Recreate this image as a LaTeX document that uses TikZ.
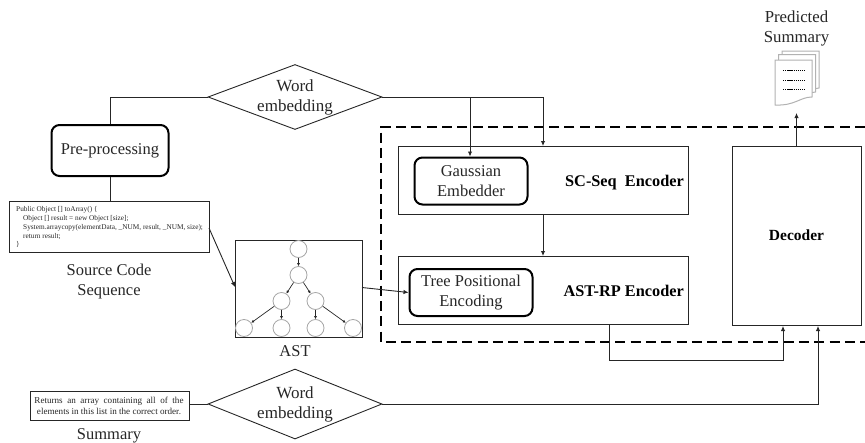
\documentclass[tikz,border=0pt]{standalone}
\usepackage{fontspec}
\setmainfont{Liberation Serif}
\usetikzlibrary{shapes.geometric,arrows.meta}
\definecolor{ink}{gray}{0.15}
\tikzset{
  x=1pt,y=-1pt,
  line/.style={draw=ink,line width=0.9pt},
  arr/.style={line,-{Latex[length=5pt,width=4.5pt]}},
  plainbox/.style={draw=ink,line width=1pt,anchor=north west,inner sep=0pt},
  roundbox/.style={draw=black,line width=2pt,rounded corners=8pt,anchor=north west,inner sep=0pt,align=center,font=\fontsize{16.5}{20}\selectfont,text=ink},
  diam/.style={draw=ink,line width=0.9pt,diamond,aspect=2.68,inner sep=0pt,align=center,font=\fontsize{17}{20}\selectfont,text=ink},
  lbl/.style={align=center,inner sep=0pt,font=\fontsize{16.5}{20}\selectfont,text=ink},
  bold/.style={inner sep=0pt,font=\fontsize{16.3}{18}\selectfont\bfseries,text=black},
  tnode/.style={circle,draw=gray!70,line width=0.8pt,minimum size=17pt,inner sep=0pt},
  tedge/.style={draw=ink,line width=0.7pt,-{Latex[length=3pt,width=3pt]}},
  codetext/.style={font=\fontsize{7.3}{8.8}\selectfont,align=left,inner sep=0pt,anchor=north west,text=ink},
  doc/.style={draw=gray!60,line width=1pt,fill=white},
}
\begin{document}
\begin{tikzpicture}
\useasboundingbox (0,0) rectangle (865,442);
% dashed frame
\draw[black,line width=2.2pt,dash pattern=on 10pt off 5.3pt] (865,127) -- (381,127) -- (381,342) -- (865,342);
% nodes
\node[roundbox,minimum width=117pt,minimum height=51pt] (pre) at (50.5,124) {Pre-processing};
\node[plainbox,minimum width=200pt,minimum height=51pt] (code) at (9,201) {};
\node[codetext] at (16,206.5) {Public Object [] toArray() \{\\
\hspace*{7pt}Object [] result = new Object [size];\\
\hspace*{7pt}System.arraycopy(elementData, \_NUM, result, \_NUM, size);\\
\hspace*{7pt}return result;\\
\}};
\node[lbl] (codelbl) at (109,281.5) {Source Code\\Sequence};
\node[diam,minimum width=174pt,minimum height=65pt] (we1) at (295,97) {\raisebox{-3pt}{Word}\\\raisebox{-3pt}{embedding}};
\node[diam,minimum width=174pt,minimum height=70pt] (we2) at (295,404) {\raisebox{-3pt}{Word}\\\raisebox{-3pt}{embedding}};
\node[plainbox,minimum width=159pt,minimum height=29pt] (sumbox) at (29.5,391) {};
\node[font=\fontsize{9.1}{10.8}\selectfont,align=center,inner sep=0pt,text=ink] at (109,405.5) {Returns\ \ an\ \ array\ \ containing\ \ all\ \ of\ \ the\\elements in this list in the correct order.};
\node[lbl] (sumlbl) at (109,435.5) {Summary};
% AST
\node[plainbox,minimum width=127pt,minimum height=97pt] (ast) at (235,240) {};
\node[lbl] (astlbl) at (295,351) {AST};
\node[tnode] (t0) at (298.5,249) {};
\node[tnode] (t1) at (298.5,275) {};
\node[tnode] (t2) at (281.5,301) {};
\node[tnode] (t3) at (315.5,301) {};
\node[tnode] (t4) at (244,328) {};
\node[tnode] (t5) at (281.5,328) {};
\node[tnode] (t6) at (315.5,328) {};
\node[tnode] (t7) at (353,328) {};
\draw[tedge] (t0)--(t1);
\draw[tedge] (t1)--(t2);
\draw[tedge] (t1)--(t3);
\draw[tedge] (t2)--(t4);
\draw[tedge] (t2)--(t5);
\draw[tedge] (t3)--(t6);
\draw[tedge] (t3)--(t7);
% encoders
\node[plainbox,minimum width=290pt,minimum height=68pt] (sc) at (398,146) {};
\node[plainbox,minimum width=290pt,minimum height=68pt] (astrp) at (398,256) {};
\node[roundbox,minimum width=113pt,minimum height=47pt] (gauss) at (413.5,156.5) {Gaussian\\Embedder};
\node[roundbox,minimum width=123pt,minimum height=47pt] (tree) at (408.5,268) {Tree Positional\\Encoding};
\node[bold,anchor=base east] at (684,186) {SC-Seq\ \ Encoder};
\node[bold,anchor=base east] at (684,296) {AST-RP Encoder};
\node[plainbox,minimum width=129pt,minimum height=179pt] (dec) at (732,146) {};
\node[bold,font=\fontsize{15.5}{18}\selectfont\bfseries] at (796.5,235) {Decoder};
% connectors
\coordinate (c2) at (470,97);
\coordinate (c3) at (543,97);
\draw[line] (pre.south |- code.north) -- (pre.south);
\draw[line] (pre.north) -- (pre.north |- we1.west) -- (we1.west);
\draw[line] (we1.east) -- (c3);
\draw[arr] (c2) -- (c2 |- gauss.north);
\draw[arr] (c3) -- (c3 |- sc.north);
\draw[arr] (c3 |- sc.south) -- (c3 |- astrp.north);
\draw[arr] (209,228) -- (235,287);
\draw[arr] (362,287.5) -- (tree.west);
\coordinate (m1) at (609,360);
\coordinate (m2) at (783,360);
\draw[arr] (m1 |- astrp.south) -- (m1) -- (m2) -- (m2 |- dec.south);
\coordinate (b1) at (818,404);
\draw[line] (sumbox.east |- we2.west) -- (we2.west);
\draw[arr] (we2.east) -- (b1) -- (b1 |- dec.south);
% document icon
\draw[doc] (782,51) -- (819,51) -- (819,88) -- (782,95) -- cycle;
\draw[doc] (778.5,54.5) -- (815.5,54.5) -- (815.5,92) -- (778.5,98) -- cycle;
\draw[doc] (775,60) -- (812,60) -- (812,97) .. controls (800,97) and (795,106) .. (775,105) -- cycle;
\foreach \yy in {70.5,80,89}{\draw[black,line width=0.9pt,dash pattern=on 1.3pt off 0.8pt] (783,\yy) -- (806,\yy);}
\node[lbl,font=\fontsize{16.8}{20}\selectfont] (pred) at (796.5,28) {Predicted\\Summary};
\coordinate (p0) at (796.5,113);
\draw[arr] (p0 |- dec.north) -- (p0);
\end{tikzpicture}
\end{document}
